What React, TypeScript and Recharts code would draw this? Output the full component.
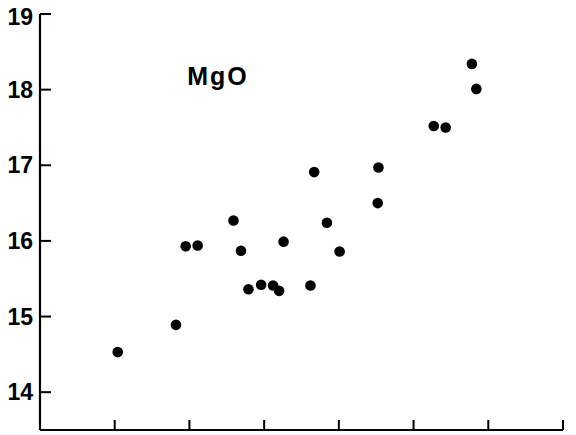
import React from "react";
import { ScatterChart, Scatter, XAxis, YAxis } from "recharts";

const xValues = [1.04, 1.82, 1.95, 2.11, 2.59, 2.69, 2.79, 2.96, 3.12, 3.2, 3.26, 3.62, 3.67, 3.84, 4.01, 4.53, 4.52, 5.27, 5.43, 5.78, 5.84];
const mgoValues = [14.53, 14.89, 15.93, 15.94, 16.27, 15.87, 15.36, 15.42, 15.41, 15.34, 15.99, 15.41, 16.91, 16.24, 15.86, 16.97, 16.5, 17.52, 17.5, 18.34, 18.01];
const xTicks = [1, 2, 3, 4, 5, 6, 7];
const yTicks = [14, 15, 16, 17, 18, 19];
const label = "MgO";

const data = xValues.map((x, i) => ({ x, y: mgoValues[i] }));

const YTick = (props: any) => {
  const { x, y, payload } = props;
  return (
    <g>
      <line x1={x} y1={y} x2={x + 11} y2={y} stroke="#000" strokeWidth={2} />
      <text
        x={x - 7}
        y={y}
        dy={payload.value === 19 ? 11 : 8}
        textAnchor="end"
        fontFamily="Liberation Sans Narrow, Liberation Sans, Arial, sans-serif"
        fontWeight="bold"
        fontSize={23}
        fill="#000"
      >
        {payload.value}
      </text>
    </g>
  );
};

const XTick = (props: any) => {
  const { x, y } = props;
  return <line x1={x} y1={y} x2={x} y2={y - 10} stroke="#000" strokeWidth={2} />;
};

const Dot = (props: any) => {
  const { cx, cy } = props;
  return <circle cx={cx} cy={cy} r={5.3} fill="#000" />;
};

export default function App() {
  return (
    <div style={{ position: "absolute", left: 0, top: 0, width: 576, height: 435, background: "#fff" }}>
      <ScatterChart width={576} height={435} margin={{ top: 14, right: 13, bottom: 4, left: 0 }}>
        <XAxis
          type="number"
          dataKey="x"
          domain={[0, 7]}
          ticks={xTicks}
          height={1}
          tickSize={0}
          tickMargin={0}
          tickLine={false}
          axisLine={{ stroke: "#000", strokeWidth: 2.2 }}
          tick={<XTick />}
          allowDataOverflow
        />
        <YAxis
          type="number"
          dataKey="y"
          domain={[13.5, 19]}
          ticks={yTicks}
          width={40}
          tickSize={0}
          tickMargin={0}
          tickLine={false}
          axisLine={{ stroke: "#000", strokeWidth: 2.2 }}
          tick={<YTick />}
          allowDataOverflow
        />
        <Scatter data={data} fill="#000" shape={<Dot />} isAnimationActive={false} />
        <text
          x={218}
          y={85}
          textAnchor="middle"
          fontFamily="Liberation Sans, Arial, sans-serif"
          fontWeight="bold"
          fontSize={25}
          letterSpacing={2}
          fill="#000"
        >
          {label}
        </text>
      </ScatterChart>
    </div>
  );
}
